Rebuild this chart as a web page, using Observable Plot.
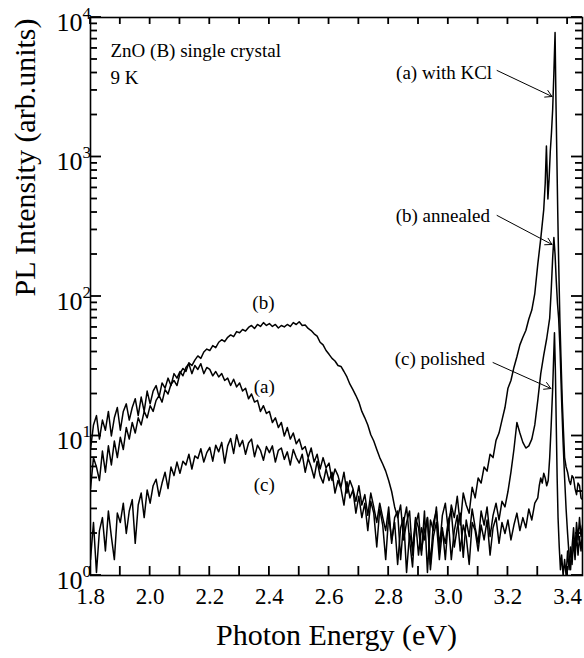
<!DOCTYPE html>
<html>
<head>
<meta charset="utf-8">
<script src="https://cdn.jsdelivr.net/npm/d3@7"></script>
<script src="https://cdn.jsdelivr.net/npm/@observablehq/plot@0.6"></script>
<style>
  html, body { margin: 0; padding: 0; background: #fff; }
  #chart svg { display: block; }
  #chart svg, #chart svg text { font-family: "Liberation Serif", serif !important; }
</style>
</head>
<body>
<div id="chart"></div>
<script>
// ---- Data ----
const energyBroad = [
  1.80,1.81,1.82,1.83,1.84,1.85,1.86,1.87,1.88,1.89,
  1.90,1.91,1.92,1.93,1.94,1.95,1.96,1.97,1.98,1.99,
  2.00,2.01,2.02,2.03,2.04,2.05,2.06,2.07,2.08,2.09,
  2.10,2.11,2.12,2.13,2.14,2.15,2.16,2.17,2.18,2.19,
  2.20,2.21,2.22,2.23,2.24,2.25,2.26,2.27,2.28,2.29,
  2.30,2.31,2.32,2.33,2.34,2.35,2.36,2.37,2.38,2.39,
  2.40,2.41,2.42,2.43,2.44,2.45,2.46,2.47,2.48,2.49,
  2.50,2.51,2.52,2.53,2.54,2.55,2.56,2.57,2.58,2.59,
  2.60,2.61,2.62,2.63,2.64,2.65,2.66,2.67,2.68,2.69,
  2.70,2.71,2.72,2.73,2.74,2.75,2.76,2.77,2.78,2.79,
  2.80,2.81,2.82,2.83,2.84,2.85,2.86,2.87,2.88,2.89,
  2.90,2.91,2.92,2.93,2.94,2.95,2.96,2.97,2.98,2.99,
  3.00,3.01,3.02,3.03,3.04,3.05,3.06,3.07,3.08,3.09,
  3.10,3.11,3.12,3.13,3.14,3.15,3.16,3.17,3.18,3.19,
  3.20,3.21,3.22,3.23,3.24,3.25,3.26,3.27,3.28,3.29
];
// (a) with KCl
const intensityA = [
  8,12,14,9.5,13,11,15,10,13.5,16,
  11,15,17,13,16,18.5,14,19,15,21,
  17,21,23,19,24,22,26,23,28,26,
  29,27,31,33,28,32,30,33,28,31,
  30,27,29,26.5,28,25,26,23,25.5,22.5,
  24,21,22,18.5,20,17.5,18,15,16.5,14.5,
  15,12.5,13.5,11.5,12.5,10,11.5,9.5,10.5,8.8,
  9.5,8,8.4,7,8.2,6.5,7.4,5.8,7,5.9,
  6.4,4.8,5.8,5.2,4.3,5.5,3.9,4.8,4.2,3.4,
  4.4,3.2,3.8,2.7,3.9,3.1,2.4,3.3,2.6,2.1,
  3.1,1.7,2.6,2.9,1.3,2.4,3.1,1.8,1.15,2.6,
  2.2,1.4,2.9,1.05,2.5,2.1,3.1,1.5,2.7,3.3,
  2.1,3.2,2.6,3.7,2.3,3.9,3.2,2.8,4.3,3.6,
  5,4.6,6,5.6,7.4,7,9.3,10.5,13,16,
  22,25,31,37,45,51,57,69,80,105
];
// (b) annealed
const intensityB = [
  4.2,7,6,4.8,7.8,5.5,8.5,6.2,9.2,7,
  9.8,8,11.5,9.5,12.5,10.5,13.5,12,15,13.5,
  16.5,15,18,19.5,17.5,21.5,20,23.5,25,23,
  28,30.5,29,33.5,32,35,37.5,36,40,42,
  41,44.5,43,47,49,47.5,51,53,51.5,56,
  55,58,56.5,60,62,59,63,61,65,62,
  64,61,63,59.5,62,60.5,63,61,65,63,
  66,62,62.5,59,57,54,52,47,45,41,
  38.5,36,34.5,32,31.5,29,26.5,23.5,21.5,19.5,
  17.5,15,13.5,12,10.2,9.2,8,7,6.3,5.6,
  4.8,4,3.1,2.6,3.2,1.8,2.4,2.9,1.4,2.3,
  2.8,1.5,2.1,2.6,1.2,2.4,2.9,1.7,2.2,1.3,
  2.5,2.9,1.6,2.2,2.8,1.35,2.5,1.9,3,2.2,
  1.7,2.9,2.3,3.1,1.9,2.7,3.3,2.5,3.4,3.1,
  4,5.5,8,12.5,10.5,9,8.2,8.5,9.5,12
];
// (c) polished
const intensityC = [
  1.3,2.4,1.05,2.1,2.6,1.5,2.9,1.9,1.3,2.8,
  2.4,3.3,2,2.9,3.5,1.7,3.2,3.9,2.6,4.1,
  3.3,4.4,4.9,3.7,4.6,5.5,4.2,6,5.2,6.5,
  5.4,6.6,6.2,7.4,5.8,7.2,6.9,8.1,6.5,7.6,
  8.3,6.6,8.6,7.7,9,6.4,8.5,9.6,7.5,10.2,
  8.4,9.3,7.4,8.9,9.5,7.1,8.6,7.9,6.7,8.4,
  7.6,8.5,6.5,7.9,8.2,6.8,7.7,6.2,8,7,
  6.4,7.4,5.5,6.9,6,5,6.6,5.2,4.6,5.8,
  4.8,5.5,3.9,4.8,4.2,3.2,4.7,3.6,4.1,2.8,
  3.7,2.6,3.3,2.1,3.4,2.8,1.6,3,2.3,1.3,
  2.7,1.8,2.4,1.2,2.2,2.6,1.05,2,1.6,2.5,
  1.4,2.2,1.8,2.6,1.1,1.9,2.4,1.3,2.1,1.7,
  2.5,1.3,2.1,2.7,1.5,2.3,1.9,1.2,2.4,2.1,
  1.5,2.3,1.8,2.5,1.4,2.2,2.6,1.7,2.4,2,
  2.5,1.8,2.3,2.8,2.1,2.6,2.2,3,2.5,3.3
];
// band-edge peak region, sampled more finely
const energyPeakA = [3.30,3.31,3.32,3.325,3.329,3.334,3.338,3.342,3.346,3.350,3.354,3.358,3.361,3.364,3.367,3.370,3.374,3.378,3.382,3.386,3.39,3.395,3.40,3.405,3.41,3.415,3.42,3.425,3.43,3.435,3.44,3.445,3.45];
const intensityPeakA = [170,260,420,650,1200,500,700,1100,1500,2200,4000,7800,2500,1000,400,180,70,35,18,11,7,6,5.5,4.8,4.5,5.2,5,4.2,3.8,4.6,4.4,3.6,3.5];
const energyPeakB = [3.30,3.31,3.32,3.33,3.34,3.345,3.35,3.354,3.358,3.362,3.366,3.370,3.375,3.38,3.385,3.39,3.395,3.40,3.405,3.41,3.415,3.42,3.425,3.43,3.435,3.44,3.445,3.45];
const intensityPeakB = [18,28,38,50,70,110,190,265,200,130,90,70,40,18,9,5,3,2,1.4,1.1,1.6,2.2,1.5,2.4,1.8,2.6,1.9,2.3];
const energyPeakC = [3.30,3.305,3.31,3.315,3.32,3.325,3.33,3.335,3.34,3.345,3.35,3.353,3.356,3.359,3.362,3.365,3.368,3.372,3.376,3.38,3.385,3.39,3.395,3.40,3.405,3.41,3.415,3.42,3.425,3.43,3.435,3.44,3.445,3.45];
const intensityPeakC = [3.6,4.4,5,4.6,5.4,5,4.4,4.8,7,12,22,35,55,30,12,5,2.6,1.6,1.1,1.4,1.0,1.3,1.0,1.5,1.1,1.6,1.2,1.8,1.3,2,1.4,1.9,1.5,2.1];

// ---- Ticks ----
const xTickLabels = [1.8, 2.0, 2.2, 2.4, 2.6, 2.8, 3.0, 3.2, 3.4];
const xTicks = [1.8,1.9,2.0,2.1,2.2,2.3,2.4,2.5,2.6,2.7,2.8,2.9,3.0,3.1,3.2,3.3,3.4];
const yMajor = [1, 10, 100, 1000, 10000];
const yExponents = ["0", "1", "2", "3", "4"];
const yMinor = [2,3,4,5,6,7,8,9,20,30,40,50,60,70,80,90,200,300,400,500,600,700,800,900,2000,3000,4000,5000,6000,7000,8000,9000];

// ---- Annotations ----
const notes = [
  {text: "ZnO (B) single crystal", E: 1.867, I: 5800, anchor: "start"},
  {text: "9 K", E: 1.867, I: 3715, anchor: "start"},
  {text: "(a) with KCl", E: 3.147, I: 4035, anchor: "end"},
  {text: "(b) annealed", E: 3.140, I: 381, anchor: "end"},
  {text: "(c) polished", E: 3.123, I: 35.9, anchor: "end"},
  {text: "(b)", E: 2.380, I: 90.6, anchor: "middle"},
  {text: "(a)", E: 2.383, I: 22.6, anchor: "middle"},
  {text: "(c)", E: 2.383, I: 4.49, anchor: "middle"}
];
const arrows = [
  {E1: 3.1635, I1: 4170, E2: 3.3477, I2: 2715},
  {E1: 3.1635, I1: 381, E2: 3.3477, I2: 236},
  {E1: 3.150, I1: 33.6, E2: 3.344, I2: 21.9}
];

// ---- Build table ----
const rows = [];
for (const [name, ys, pe, py] of [
  ["a", intensityA, energyPeakA, intensityPeakA],
  ["b", intensityB, energyPeakB, intensityPeakB],
  ["c", intensityC, energyPeakC, intensityPeakC]
]) {
  energyBroad.forEach((e, i) => rows.push({series: name, E: e, I: ys[i]}));
  pe.forEach((e, i) => rows.push({series: name, E: e, I: py[i]}));
}

const W = 584, H = 658, ML = 90, MR = 2, MT = 17, MB = 83;
const xDomain = [1.8, 3.45], yDomain = [1, 10000];
// helpers matching the plot's own scales, used only to give ticks a fixed pixel size
const xs = d3.scaleLinear().domain(xDomain).range([ML, W - MR]);
const ys = d3.scaleLog().domain(yDomain).range([H - MB, MT]);
const half = 0.9; // half tick thickness, px
const tickRects = [];
xTicks.forEach(v => {
  const px = xs(v);
  tickRects.push({x1: xs.invert(px - half), x2: xs.invert(px + half), y1: ys.invert(H - MB), y2: ys.invert(H - MB - 9)});
  tickRects.push({x1: xs.invert(px - half), x2: xs.invert(px + half), y1: ys.invert(MT), y2: ys.invert(MT + 7)});
});
const addY = (v, len) => {
  const py = ys(v);
  tickRects.push({x1: xs.invert(ML), x2: xs.invert(ML + len), y1: ys.invert(py + half), y2: ys.invert(py - half)});
  tickRects.push({x1: xs.invert(W - MR - len), x2: xs.invert(W - MR), y1: ys.invert(py + half), y2: ys.invert(py - half)});
};
yMajor.forEach(v => addY(v, 11));
yMinor.forEach(v => addY(v, 7));

const serif = "Liberation Serif";

const chart = Plot.plot({
  width: W,
  height: H,
  marginLeft: ML,
  marginRight: MR,
  marginTop: MT,
  marginBottom: MB,
  style: {fontFamily: serif, background: "white", color: "black"},
  x: {domain: xDomain, axis: null},
  y: {type: "log", domain: yDomain, axis: null},
  marks: [
    Plot.line(rows, {x: "E", y: "I", z: "series", stroke: "black", strokeWidth: 1.5, clip: true}),
    // inward ticks on all four sides, drawn as thin filled rectangles
    Plot.rect(tickRects, {x1: "x1", x2: "x2", y1: "y1", y2: "y2", fill: "black"}),
    // x tick labels
    Plot.axisX({anchor: "bottom", ticks: xTickLabels, tickSize: 0, tickPadding: 12, tickFormat: d3.format(".1f"), label: null, fontSize: 23, fontFamily: serif}),
    // y tick labels: 10 with superscript exponent
    Plot.text(yMajor, {y: d => d, frameAnchor: "left", text: () => "10", textAnchor: "end", dx: -8, dy: 5, fontSize: 26, fontFamily: serif}),
    Plot.text(yMajor, {y: d => d, frameAnchor: "left", text: (d, i) => yExponents[i], textAnchor: "start", dx: -8, dy: -4, fontSize: 17, fontFamily: serif}),
    // axis titles
    Plot.text(["Photon Energy (eV)"], {frameAnchor: "bottom", dy: 69, fontSize: 30, fontFamily: serif}),
    Plot.text(["PL Intensity (arb.units)"], {frameAnchor: "left", rotate: -90, dx: -65, fontSize: 30, fontFamily: serif}),
    // annotations
    Plot.text(notes, {filter: d => d.anchor === "start", x: "E", y: "I", text: "text", textAnchor: "start", fontSize: 19, fontFamily: serif}),
    Plot.text(notes, {filter: d => d.anchor === "end", x: "E", y: "I", text: "text", textAnchor: "end", fontSize: 19, fontFamily: serif}),
    Plot.text(notes, {filter: d => d.anchor === "middle", x: "E", y: "I", text: "text", textAnchor: "middle", fontSize: 19, fontFamily: serif}),
    Plot.arrow(arrows, {x1: "E1", y1: "I1", x2: "E2", y2: "I2", stroke: "black", strokeWidth: 1, headLength: 11}),
    Plot.frame({stroke: "black", strokeWidth: 1.6})
  ]
});
document.getElementById("chart").appendChild(chart);
</script>
</body>
</html>
